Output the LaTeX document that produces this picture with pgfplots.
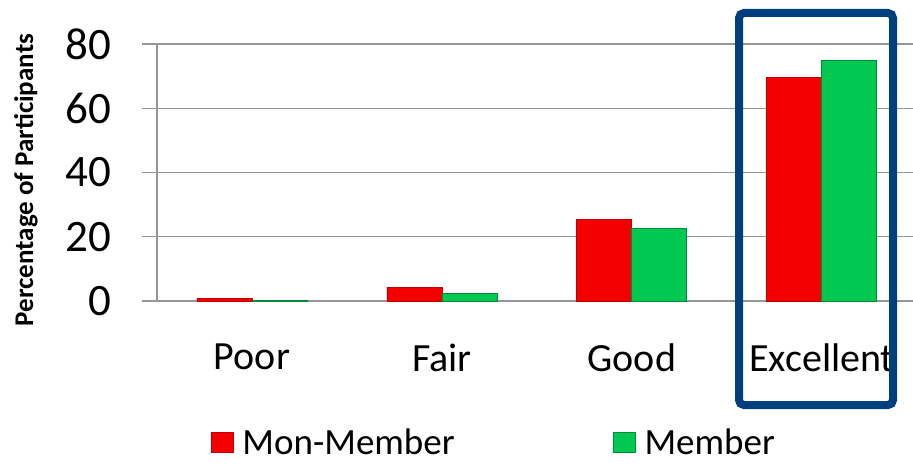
\documentclass[border=0pt]{standalone}
\usepackage{fontspec}
\setmainfont{Carlito}
\usepackage{pgfplots}
\pgfplotsset{compat=1.18}
\definecolor{barred}{RGB}{245,0,0}
\definecolor{barredd}{RGB}{190,0,0}
\definecolor{bargreen}{RGB}{0,200,80}
\definecolor{bargreend}{RGB}{0,140,55}
\definecolor{boxblue}{RGB}{0,63,125}
\definecolor{gridgray}{RGB}{150,150,150}
\begin{document}
\begin{tikzpicture}
\path[use as bounding box] (0,0) rectangle (913pt,464pt);
\begin{axis}[
  at={(157pt,163pt)}, anchor=south west,
  scale only axis,
  width=756pt, height=257pt,
  xmin=-0.5, xmax=3.48,
  ymin=0, ymax=80,
  ybar=0pt, bar width=55pt,
  axis lines*=left,
  axis line style={gridgray, line width=1.2pt},
  ymajorgrids,
  grid style={gridgray, line width=1.2pt},
  ytick={0,20,40,60,80},
  xtick={0,1,2,3},
  xticklabels={Poor,Fair,Good,Excellent},
  minor xtick={-0.5,0.5,1.5,2.5},
  tick align=outside,
  major tick length=15pt,
  minor tick length=14pt,
  xtick style={draw=none},
  minor x tick style={gridgray, line width=1.2pt},
  ytick style={gridgray, line width=1.2pt},
  xticklabel style={font=\fontsize{40}{44}\selectfont, yshift=-24pt},
  yticklabel style={font=\fontsize{45}{48}\selectfont, xshift=-27pt},
  /pgf/number format/assume math mode=true,
  legend style={draw=none, fill=none, at={(axis description cs:0.4455,-0.552)}, anchor=center,
    font=\fontsize{37}{40}\selectfont, legend columns=2,
    /tikz/every odd column/.append style={column sep=7pt},
    /tikz/every even column/.append style={column sep=156pt}},
  legend image code/.code={\draw[#1] (0pt,-10pt) rectangle (22pt,10pt);},
]
\addplot[fill=barred, draw=barredd, line width=0.8pt] coordinates {(0,0.8) (1,4.3) (2,25.4) (3,69.6)};
\addlegendentry{Mon-Member}
\addplot[fill=bargreen, draw=bargreend, line width=0.8pt] coordinates {(0,0.3) (1,2.4) (2,22.5) (3,74.9)};
\addlegendentry{Member}
\end{axis}
\node[rotate=90, font=\bfseries\fontsize{27}{29}\selectfont] at (26pt,284pt) {Percentage of Participants};
\draw[boxblue, line width=8pt, rounded corners=5pt] (739pt,451pt) rectangle (893pt,59pt);
\end{tikzpicture}
\end{document}
